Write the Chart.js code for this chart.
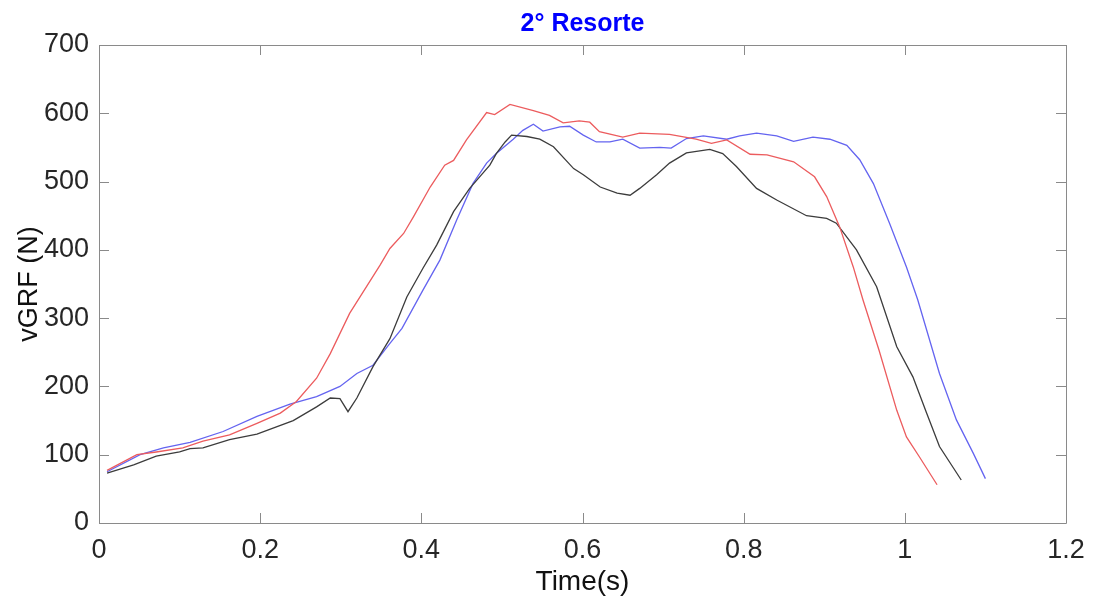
<!DOCTYPE html>
<html>
<head>
<meta charset="utf-8">
<script src="https://cdn.jsdelivr.net/npm/chart.js@4.4.0/dist/chart.umd.min.js"></script>
<style>
html,body{margin:0;padding:0;background:#fff;}
#wrap{width:1096px;height:609px;position:relative;}
</style>
</head>
<body>
<div id="wrap"><canvas id="c"></canvas></div>
<script>
const chartTitle = '2° Resorte';
const xTitle = 'Time(s)';
const yTitle = 'vGRF (N)';
const xTicks = [0, 0.2, 0.4, 0.6, 0.8, 1, 1.2];
const yTicks = [0, 100, 200, 300, 400, 500, 600, 700];

const redT = [0.01,0.047,0.071,0.104,0.129,0.162,0.196,0.225,0.245,0.27,0.287,0.311,0.349,0.361,0.378,0.39,0.411,0.429,0.44,0.456,0.481,0.491,0.51,0.539,0.559,0.576,0.596,0.609,0.621,0.65,0.671,0.708,0.741,0.76,0.779,0.808,0.829,0.862,0.888,0.903,0.919,0.936,0.948,0.968,0.99,1.002,1.018,1.04];
const redV = [77,100,104,110,120,129,146,161,178,212,248,307,378,402,424,448,492,524,531,561,601,598,613,604,597,586,589,587,573,565,571,569,562,556,561,540,539,529,507,478,434,375,327,253,165,126,97,56];

const blackT = [0.01,0.043,0.071,0.1,0.113,0.129,0.162,0.196,0.241,0.27,0.287,0.299,0.309,0.32,0.34,0.361,0.382,0.402,0.419,0.44,0.46,0.485,0.493,0.504,0.512,0.531,0.547,0.564,0.589,0.601,0.622,0.643,0.659,0.671,0.692,0.708,0.729,0.758,0.774,0.791,0.816,0.841,0.878,0.903,0.915,0.94,0.965,0.99,1.01,1.027,1.043,1.07];
const blackV = [73,85,98,104,109,110,122,130,150,170,183,182,163,183,229,270,331,373,407,456,490,524,541,558,568,566,562,551,519,510,492,483,480,490,510,527,542,547,541,522,490,473,450,446,439,400,346,258,214,161,112,63];

const blueT = [0.01,0.051,0.08,0.113,0.154,0.196,0.237,0.27,0.299,0.32,0.34,0.361,0.376,0.402,0.423,0.444,0.464,0.481,0.493,0.514,0.526,0.539,0.551,0.572,0.584,0.601,0.617,0.634,0.65,0.671,0.696,0.71,0.729,0.75,0.779,0.795,0.816,0.841,0.862,0.886,0.907,0.928,0.944,0.961,0.981,1.002,1.016,1.043,1.064,1.085,1.1];
const blueV = [75,100,110,118,134,156,174,185,200,219,231,263,285,341,385,444,497,527,541,562,575,584,574,580,581,568,558,558,562,549,550,549,563,567,562,567,571,567,559,565,562,553,532,497,439,375,327,219,151,102,65];

function pts(t, v){ return t.map((x,i)=>({x:x, y:v[i]})); }

const FONT = "'Liberation Sans', Arial, Helvetica, sans-serif";

const boxPlugin = {
  id: 'boxPlugin',
  afterDraw(chart){
    const {ctx, chartArea:a, scales:{x, y}} = chart;
    ctx.save();
    ctx.strokeStyle = '#8a8a8a';
    ctx.lineWidth = 1;
    ctx.beginPath();
    ctx.rect(Math.round(a.left)+0.5, Math.round(a.top)+0.5, Math.round(a.right-a.left), Math.round(a.bottom-a.top));
    ctx.stroke();
    const L = 10;
    ctx.beginPath();
    xTicks.forEach(v=>{
      const px = Math.round(x.getPixelForValue(v))+0.5;
      ctx.moveTo(px, a.bottom); ctx.lineTo(px, a.bottom-L);
      ctx.moveTo(px, a.top); ctx.lineTo(px, a.top+L);
    });
    yTicks.forEach(v=>{
      const py = Math.round(y.getPixelForValue(v))+0.5;
      ctx.moveTo(a.left, py); ctx.lineTo(a.left+L, py);
      ctx.moveTo(a.right, py); ctx.lineTo(a.right-L, py);
    });
    ctx.stroke();
    // title, centred over the plot area
    ctx.fillStyle = '#0000ff';
    ctx.font = "bold 25px " + FONT;
    ctx.textAlign = 'center';
    ctx.textBaseline = 'alphabetic';
    ctx.fillText(chartTitle, (a.left + a.right)/2, 31);
    ctx.restore();
  }
};

new Chart(document.getElementById('c'), {
  type: 'line',
  data: {
    datasets: [
      {label:'red', data: pts(redT, redV), borderColor:'#ec5c5e', borderWidth:1.3, pointRadius:0, fill:false, tension:0},
      {label:'black', data: pts(blackT, blackV), borderColor:'#3c3c3c', borderWidth:1.3, pointRadius:0, fill:false, tension:0},
      {label:'blue', data: pts(blueT, blueV), borderColor:'#6464f0', borderWidth:1.3, pointRadius:0, fill:false, tension:0}
    ]
  },
  options: {
    responsive: true,
    maintainAspectRatio: false,
    animation: false,
    layout: {padding: {left:0, right:30, top:45, bottom:0}},
    plugins: {
      legend: {display:false},
      tooltip: {enabled:false},
      title: {display:false}
    },
    scales: {
      x: {
        type:'linear', min:0, max:1.2,
        grid:{display:false, drawTicks:false},
        border:{display:false},
        afterBuildTicks(s){ s.ticks = xTicks.map(v=>({value:v})); },
        afterFit(s){ s.height = 86; },
        ticks:{color:'#262626', padding:11, maxRotation:0, autoSkip:false, font:{family:FONT, size:27}, callback:(v)=>String(v)},
        title:{display:true, text:xTitle, color:'#111', font:{family:FONT, size:28}, padding:{top:0, bottom:10}}
      },
      y: {
        type:'linear', min:0, max:700,
        grid:{display:false, drawTicks:false},
        border:{display:false},
        afterBuildTicks(s){ s.ticks = yTicks.map(v=>({value:v})); },
        afterFit(s){ s.width = 99; },
        ticks:{color:'#262626', padding:10, autoSkip:false, font:{family:FONT, size:27}, callback:(v)=>String(v)},
        title:{display:true, text:yTitle, color:'#111', font:{family:FONT, size:27}, padding:{top:13, bottom:0}}
      }
    }
  },
  plugins:[boxPlugin]
});
</script>
</body>
</html>
